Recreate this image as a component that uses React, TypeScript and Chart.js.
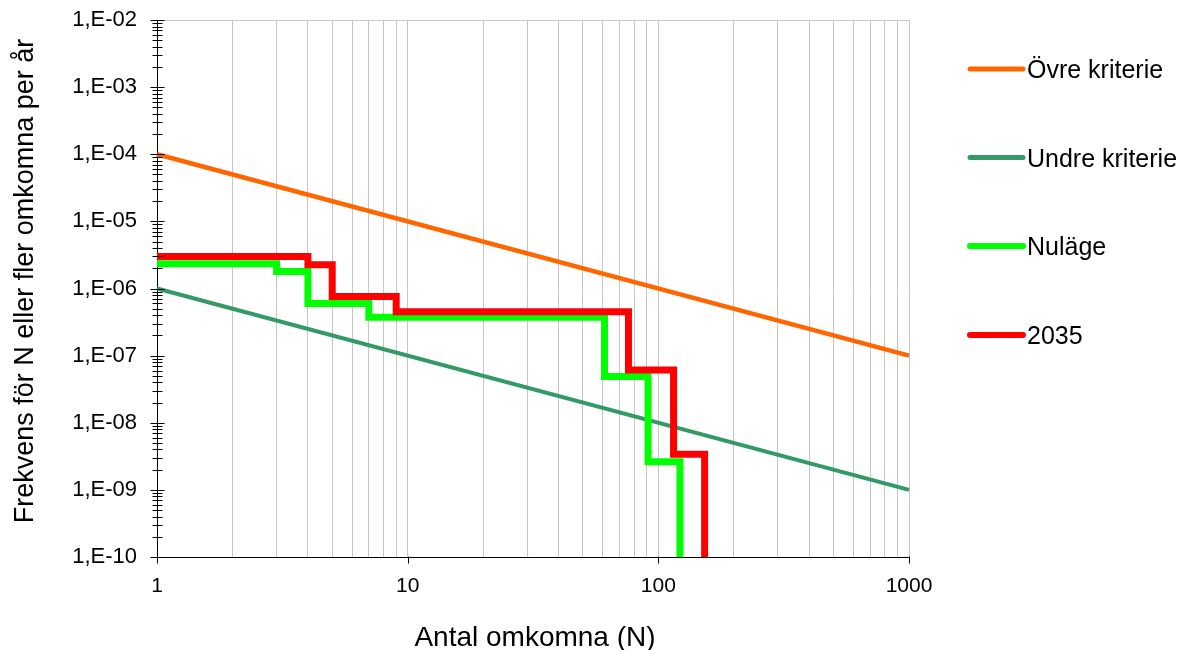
import React, { useEffect, useRef } from 'react';
import { Chart, registerables } from 'chart.js';

Chart.register(...registerables);

// ---- Data ----
const seriesLabels = ['Övre kriterie', 'Undre kriterie', 'Nuläge', '2035'];
const seriesColors = ['#FF6600', '#339966', '#00FF00', '#FF0000'];
const seriesWidths = [4.5, 4, 7, 7];

const ovreN = [1, 1000];
const ovreF = [1e-4, 1e-7];
const undreN = [1, 1000];
const undreF = [1e-6, 1e-9];
const nulageN = [1, 3, 4, 7, 61, 91, 122];
const nulageF = [2.33e-6, 1.79e-6, 6.0e-7, 3.73e-7, 4.87e-8, 2.63e-9, 1e-10];
const y2035N = [1, 4, 5, 9, 76, 115, 153];
const y2035F = [3.0e-6, 2.25e-6, 7.6e-7, 4.5e-7, 6.1e-8, 3.4e-9, 1e-10];

const xTickValues = [1, 10, 100, 1000];
const xTickLabels = ['1', '10', '100', '1000'];
const yTickValues = [1e-10, 1e-9, 1e-8, 1e-7, 1e-6, 1e-5, 1e-4, 1e-3, 1e-2];
const yTickLabels = ['1,E-10', '1,E-09', '1,E-08', '1,E-07', '1,E-06', '1,E-05', '1,E-04', '1,E-03', '1,E-02'];

const xTitle = 'Antal omkomna (N)';
const yTitle = 'Frekvens för N eller fler omkomna per år';

const FONT = '"Liberation Sans", Arial, sans-serif';
const PLOT_TOP = 20;

const pts = (xs: number[], ys: number[]) => xs.map((x, i) => ({ x, y: ys[i] }));

const decorPlugin = {
  id: 'decor',
  afterLayout(chart: any) {
    const area = chart.chartArea;
    const ys = chart.scales.y;
    area.top = PLOT_TOP;
    area.height = area.bottom - PLOT_TOP;
    ys.top = PLOT_TOP;
    ys.height = ys.bottom - PLOT_TOP;
    ys.configure();
  },
  afterDraw(chart: any) {
    const ctx = chart.ctx;
    const xs = chart.scales.x;
    const ys = chart.scales.y;
    const area = chart.chartArea;
    ctx.save();
    ctx.strokeStyle = '#000';
    ctx.lineWidth = 1;
    // y axis tick marks (major + minor) crossing the axis
    const ax = Math.round(area.left) + 0.5;
    for (let e = -10; e <= -2; e++) {
      const yy = Math.round(ys.getPixelForValue(Math.pow(10, e))) + 0.5;
      ctx.beginPath();
      ctx.moveTo(ax - 7, yy);
      ctx.lineTo(ax + 7, yy);
      ctx.stroke();
      if (e < -2) {
        for (let m = 2; m <= 9; m++) {
          const ym = Math.round(ys.getPixelForValue(m * Math.pow(10, e))) + 0.5;
          ctx.beginPath();
          ctx.moveTo(ax - 5, ym);
          ctx.lineTo(ax + 5, ym);
          ctx.stroke();
        }
      }
    }
    // x axis major tick marks
    const by = Math.round(area.bottom) + 0.5;
    xTickValues.forEach((v) => {
      const xx = Math.round(xs.getPixelForValue(v)) + 0.5;
      ctx.beginPath();
      ctx.moveTo(xx, by - 1);
      ctx.lineTo(xx, by + 6);
      ctx.stroke();
    });

    // axis titles
    ctx.fillStyle = '#000';
    ctx.textAlign = 'center';
    ctx.textBaseline = 'alphabetic';
    ctx.font = `28px ${FONT}`;
    ctx.fillText(xTitle, (area.left + area.right) / 2 + 2, 646);
    ctx.font = `27px ${FONT}`;
    ctx.save();
    ctx.translate(33, 281);
    ctx.rotate(-Math.PI / 2);
    ctx.fillText(yTitle, 0, 0);
    ctx.restore();

    // legend
    const legendYs = [69, 157.5, 246, 335];
    ctx.font = `25px ${FONT}`;
    ctx.textAlign = 'left';
    seriesLabels.forEach((label, i) => {
      const y = legendYs[i];
      ctx.strokeStyle = seriesColors[i];
      ctx.lineWidth = i < 2 ? 5 : 6;
      ctx.lineCap = 'round';
      ctx.beginPath();
      ctx.moveTo(970, y);
      ctx.lineTo(1023, y);
      ctx.stroke();
      ctx.fillStyle = '#000';
      ctx.fillText(label, 1027, y + 9);
    });
    ctx.restore();
  },
};

export default function App() {
  const ref = useRef<HTMLCanvasElement | null>(null);
  useEffect(() => {
    if (!ref.current) return;
    const allData = [pts(ovreN, ovreF), pts(undreN, undreF), pts(nulageN, nulageF), pts(y2035N, y2035F)];
    const chart = new Chart(ref.current, {
      type: 'line',
      data: {
        datasets: seriesLabels.map((label, i) => ({
          label,
          data: allData[i],
          borderColor: seriesColors[i],
          backgroundColor: seriesColors[i],
          borderWidth: seriesWidths[i],
          pointRadius: 0,
          fill: false,
          stepped: i >= 2 ? 'before' : false,
          order: 3 - i,
          borderJoinStyle: 'miter',
          borderCapStyle: 'butt',
          clip: 4,
        })),
      },
      options: {
        responsive: false,
        animation: false,
        devicePixelRatio: 1,
        layout: { padding: { left: 0, top: 7, right: 274, bottom: 0 } },
        plugins: { legend: { display: false }, tooltip: { enabled: false } },
        scales: {
          x: {
            type: 'logarithmic',
            min: 1,
            max: 1000,
            afterFit: (s: any) => { s.height = 93; },
            afterBuildTicks: (s: any) => {
              const t: any[] = [];
              for (let e = 0; e < 3; e++) {
                for (let m = 1; m <= 9; m++) t.push({ value: m * Math.pow(10, e) });
              }
              t.push({ value: 1000 });
              s.ticks = t;
            },
            grid: { color: '#c6c6c6', lineWidth: 1, drawTicks: false },
            border: { display: true, color: '#000', width: 1 },
            ticks: {
              autoSkip: false,
              maxRotation: 0,
              padding: 17,
              color: '#000',
              font: { family: FONT, size: 21 },
              callback: (v: any) => {
                const idx = xTickValues.indexOf(Number(v));
                return idx >= 0 ? xTickLabels[idx] : '';
              },
            },
          },
          y: {
            type: 'logarithmic',
            min: 1e-10,
            max: 1e-2,
            afterFit: (s: any) => { s.width = 157; },
            afterBuildTicks: (s: any) => {
              s.ticks = yTickValues.map((v) => ({ value: v }));
            },
            grid: {
              drawTicks: false,
              lineWidth: 1,
              color: (c: any) => (c.tick && c.tick.value === 1e-2 ? '#c6c6c6' : 'rgba(0,0,0,0)'),
            },
            border: { display: true, color: '#000', width: 1 },
            ticks: {
              autoSkip: false,
              padding: 20,
              color: '#000',
              font: { family: FONT, size: 22 },
              callback: (v: any) => {
                const idx = yTickValues.indexOf(Number(v));
                return idx >= 0 ? yTickLabels[idx] : '';
              },
            },
          },
        },
      },
      plugins: [decorPlugin],
    } as any);
    return () => chart.destroy();
  }, []);
  return (
    <div style={{ position: 'absolute', left: 0, top: 0, width: 1183, height: 650, background: '#fff' }}>
      <canvas ref={ref} width={1183} height={650} style={{ display: 'block' }} />
    </div>
  );
}
